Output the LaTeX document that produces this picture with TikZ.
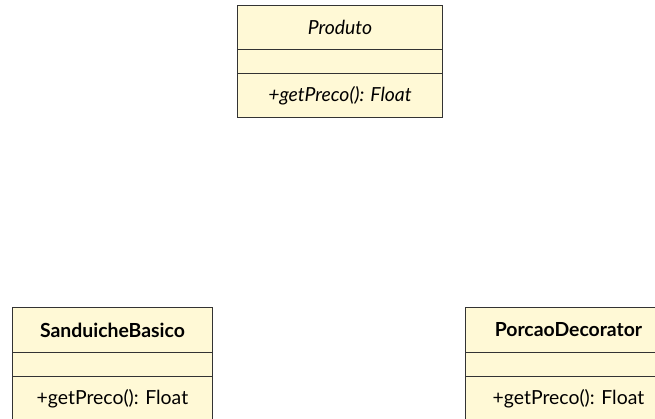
\documentclass[tikz,border=0pt]{standalone}
\usepackage{fontspec}
\setmainfont{Lato}
\definecolor{umlfill}{HTML}{FFF9D6}
\definecolor{umlline}{HTML}{333333}
\tikzset{
  comp/.style={draw=umlline, fill=umlfill, line width=0.9pt, anchor=north west, inner sep=0pt, font=\fontsize{19.4}{22}\selectfont},
}
\begin{document}
\begin{tikzpicture}[x=1pt,y=-1pt]
\useasboundingbox (0,0) rectangle (655,418);
\clip (0,0) rectangle (655,418);
% Produto
\node[comp, minimum width=205pt, minimum height=44pt] (pt) at (237,5) {\itshape Produto};
\node[comp, minimum width=205pt, minimum height=24pt] (pa) at (237,49) {};
\node[comp, minimum width=205pt, minimum height=44pt] (pm) at (237,73) {\itshape +getPreco(): Float};
% SanduicheBasico
\node[comp, minimum width=200pt, minimum height=45pt] (st) at (12,307) {\bfseries SanduicheBasico};
\node[comp, minimum width=200pt, minimum height=24pt] (sa) at (12,352) {};
\node[comp, minimum width=200pt, minimum height=44pt] (sm) at (12,376) {+getPreco(): Float};
% PorcaoDecorator
\node[comp, minimum width=206pt, minimum height=45pt] (ct) at (465,307) {\bfseries PorcaoDecorator};
\node[comp, minimum width=206pt, minimum height=24pt] (ca) at (465,352) {};
\node[comp, minimum width=206pt, minimum height=44pt] (cm) at (465,376) {+getPreco(): Float};
\end{tikzpicture}
\end{document}
